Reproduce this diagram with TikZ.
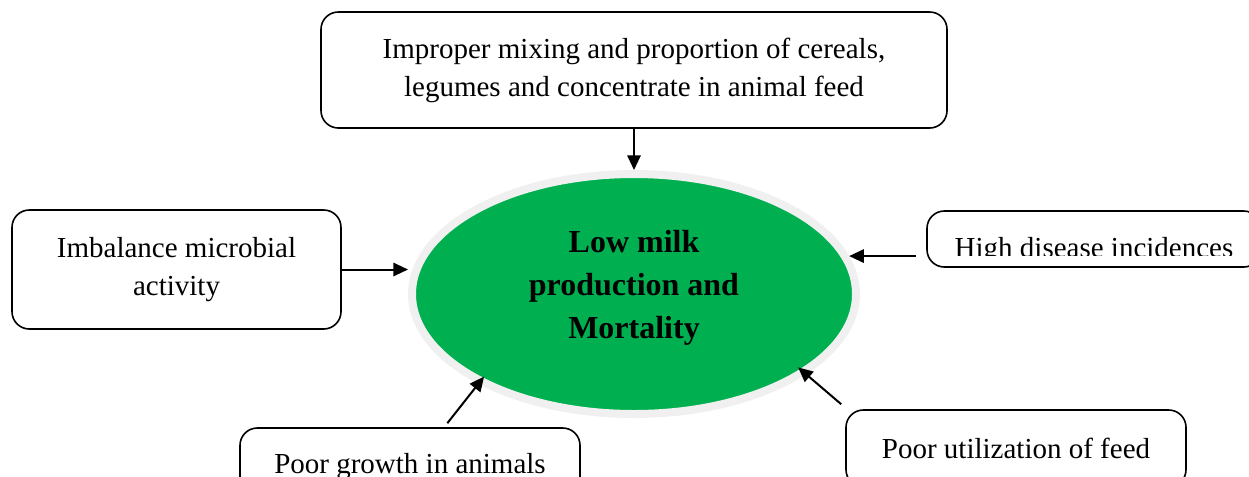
\documentclass[tikz,border=0pt]{standalone}
\usepackage{fontspec}
\setmainfont{Liberation Serif}
\usetikzlibrary{arrows.meta,shapes.geometric}
\definecolor{milkgreen}{RGB}{0,176,80}
\definecolor{ringgray}{RGB}{240,240,240}

\begin{document}
\begin{tikzpicture}[x=0.75pt,y=-0.75pt,
  boxtext/.style={font=\fontsize{21.75}{28.5}\selectfont},
  box/.style={draw,rounded corners=13pt,line width=1.2pt,align=center,boxtext},
  arrow/.style={-{Triangle[length=11pt,width=10pt]},line width=1.5pt}]
\path[use as bounding box] (0,0) rectangle (1249,476);
\clip (0,0) rectangle (1249,476);
\node [ellipse,draw=ringgray,line width=6pt,fill=milkgreen,minimum width=333pt,
  minimum height=180pt,inner sep=0pt,align=center,text depth=14pt,
  font=\bfseries\fontsize{24}{32.25}\selectfont] (lowmilk) at (634,294)
  {Low milk\\production and\\Mortality};
\node [box,minimum width=469.5pt,minimum height=87pt] (improper) at (634,70)
  {Improper mixing and proportion of cereals,\\legumes and concentrate in animal feed};
\node [box,minimum width=246.75pt,minimum height=89.25pt] (imbalance) at (176.5,269.5)
  {Imbalance microbial\\activity};
\node [box,minimum width=250.5pt,minimum height=42pt] (highdisease) at (1094,239) {};
\begin{scope}
  \clip (927,211) rectangle (1262,255);
  \node [boxtext,anchor=base] (highdiseasetext) at (1094,257) {High disease incidences};
\end{scope}
\node [box,minimum width=255pt,minimum height=57.75pt] (poorgrowth) at (410,466.5)
  {Poor growth in animals};
\node [box,minimum width=255pt,minimum height=57.75pt] (poorutil) at (1016,448.5)
  {Poor utilization of feed};
% arrows into the ellipse
\draw [arrow] (improper.south) -- (lowmilk.north);
\draw [arrow] (imbalance.east) -- (imbalance.east -| lowmilk.west);
\draw [arrow] ([xshift=-8pt]highdisease.west |- lowmilk.10) -- (lowmilk.10);
\draw [arrow,shorten >=-7pt] ([xshift=28pt,yshift=3pt]poorgrowth.north) -- (lowmilk.210);
\draw [arrow,shorten >=-8pt] ([xshift=-3pt,yshift=3.75pt]poorutil.north west) -- (lowmilk.-25);
\end{tikzpicture}
\end{document}
